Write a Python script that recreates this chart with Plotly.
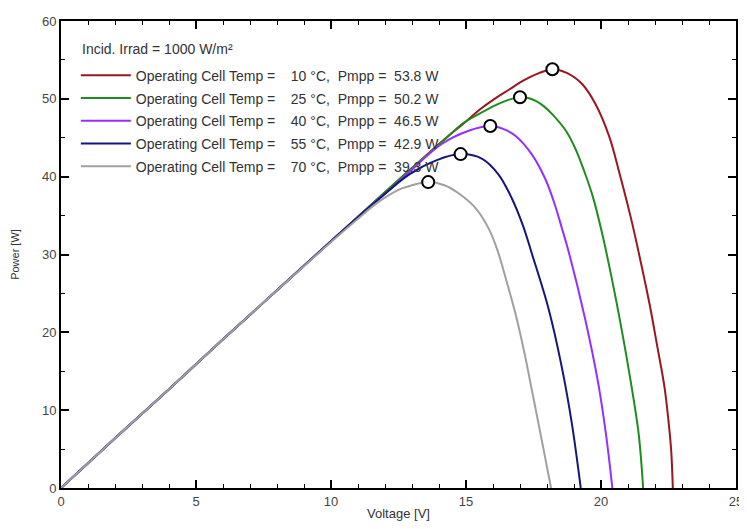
import plotly.graph_objects as go

# ---- data ----
temps = [10, 25, 40, 55, 70]
pmpp = [53.8, 50.2, 46.5, 42.9, 39.3]
vmpp = [18.2, 17.0, 15.9, 14.8, 13.6]

v_10 = [0, 2, 4, 6, 8, 10, 12, 13, 14, 15, 15.5, 16.1, 16.6, 17.1, 17.7, 18.2, 18.75, 19.3, 19.8, 20.3, 20.65, 21.1, 21.45, 21.8, 22.1, 22.35, 22.5, 22.6, 22.66]
p_10 = [0, 6.4, 12.7, 19.1, 25.4, 31.7, 38.0, 41.1, 44.2, 47.1, 48.6, 50.1, 51.2, 52.3, 53.3, 53.8, 53.3, 51.9, 49.3, 45.2, 40.9, 34.8, 29.4, 23.6, 17.9, 13.0, 8.6, 4.8, 0]

v_25 = [0, 2, 4, 6, 8, 10, 12, 13, 14, 14.9, 15.4, 16.1, 16.6, 17.0, 17.3, 17.6, 17.9, 18.2, 18.7, 19.05, 19.4, 19.7, 20.05, 20.3, 20.65, 21.1, 21.4, 21.56]
p_25 = [0, 6.4, 12.7, 19.1, 25.4, 31.7, 38.0, 41.1, 44.1, 46.9, 47.9, 49.2, 49.9, 50.2, 50.1, 49.7, 49.0, 48.0, 45.9, 43.6, 40.5, 37.4, 32.6, 28.6, 22.5, 13.7, 6.8, 0]

v_40 = [0, 2, 4, 6, 8, 10, 12, 12.9, 14.1, 15.1, 15.9, 16.4, 16.85, 17.45, 17.95, 18.3, 18.55, 18.8, 19.4, 19.9, 20.2, 20.42]
p_40 = [0, 6.4, 12.7, 19.1, 25.4, 31.7, 37.8, 40.6, 44.2, 45.9, 46.5, 46.1, 45.2, 42.8, 39.6, 36.3, 33.4, 30.4, 21.9, 13.4, 6.5, 0]

v_55 = [0, 2, 4, 6, 8, 10, 11, 11.7, 12.9, 13.9, 14.8, 15.6, 16.2, 16.7, 17.1, 17.45, 18.06, 18.55, 18.92, 19.25]
p_55 = [0, 6.4, 12.7, 19.1, 25.4, 31.7, 34.8, 36.9, 40.3, 42.1, 42.9, 42.3, 40.3, 37.2, 33.8, 30.0, 23.0, 15.5, 8.3, 0]

v_70 = [0, 2, 4, 6, 8, 10, 11, 11.7, 12.5, 13.0, 13.6, 14.2, 14.75, 15.37, 15.86, 16.16, 16.5, 16.84, 17.15, 17.45, 17.82, 18.15]
p_70 = [0, 6.4, 12.7, 19.1, 25.4, 31.6, 34.6, 36.6, 38.3, 38.9, 39.3, 38.9, 37.8, 35.9, 33.2, 30.6, 26.6, 22.3, 17.6, 12.4, 5.9, 0]

colors = ["#9a1620", "#1e8c1e", "#9430ff", "#15157e", "#a0a0a0"]
volts = [v_10, v_25, v_40, v_55, v_70]
powers = [p_10, p_25, p_40, p_55, p_70]

NB = "\u00a0"
FONT = "Liberation Sans, Arial, sans-serif"

fig = go.Figure()
for i, t in enumerate(temps):
    name = (f"Operating Cell Temp ={NB*4}{t} °C,{NB}{NB}Pmpp ={NB}{NB}{pmpp[i]:.1f} W")
    fig.add_trace(go.Scatter(
        x=volts[i], y=powers[i], mode="lines", name=name,
        line=dict(color=colors[i], width=2, shape="spline", smoothing=1.0),
        legendgroup=f"g{i}",
    ))

fig.add_trace(go.Scatter(
    x=vmpp, y=pmpp, mode="markers", showlegend=False,
    marker=dict(symbol="circle", size=12, color="white",
                line=dict(color="black", width=2)),
    cliponaxis=False,
))

axis_common = dict(
    showline=True, linecolor="black", linewidth=2, mirror="ticks",
    ticks="inside", ticklen=8, tickwidth=1.5, tickcolor="black",
    showgrid=False, zeroline=False,
    tickfont=dict(family=FONT, size=13, color="#444444"),
)

fig.add_annotation(
    text="Incid. Irrad = 1000 W/m²", xref="paper", yref="paper",
    x=0.028, y=0.940, xanchor="left", yanchor="middle", showarrow=False,
    font=dict(family=FONT, size=14, color="#333333"),
)

fig.update_layout(
    width=736, height=513,
    margin=dict(l=53, r=6, t=10, b=33),
    paper_bgcolor="white", plot_bgcolor="white",
    font=dict(family=FONT, color="#333333"),
    showlegend=True,
    legend=dict(
        x=0.022, y=0.917, xanchor="left", yanchor="top",
        bgcolor="rgba(255,255,255,0)",
        font=dict(size=14, color="#333333"),
        itemwidth=50,
        tracegroupgap=1.5,
        traceorder="grouped",
    ),
    xaxis=dict(
        range=[0, 25], dtick=5,
        minor=dict(dtick=1, ticks="inside", ticklen=4, tickcolor="black", tickwidth=1),
        title=dict(text="Voltage [V]", font=dict(size=13, color="#333333"), standoff=6),
        automargin=False,
        **axis_common,
    ),
    yaxis=dict(
        range=[0, 60], dtick=10,
        minor=dict(dtick=5, ticks="inside", ticklen=4, tickcolor="black", tickwidth=1),
        title=dict(text="Power [W]", font=dict(size=11, color="#333333"), standoff=20),
        **axis_common,
    ),
)

fig.write_html("out.html")
